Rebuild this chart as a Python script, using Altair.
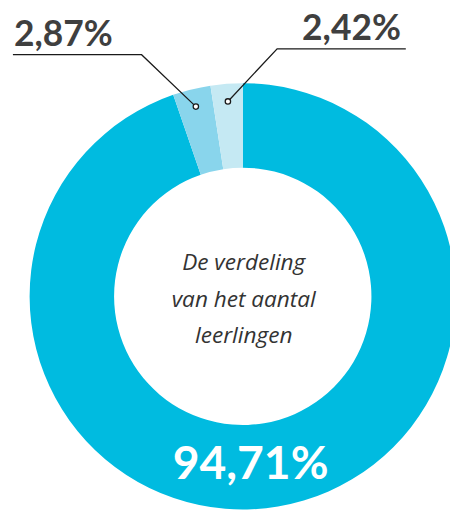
import math
import altair as alt
import pandas as pd

# data
categories = ["hoofdgroep", "groep B", "groep C"]
values = [94.71, 2.87, 2.42]
labels = ["94,71%", "2,87%", "2,42%"]
colors = ["#00BBE0", "#89D5EC", "#C5E9F3"]
center_lines = ["De verdeling", "van het aantal", "leerlingen"]

CX, CY = 239, 289
R_OUT, R_IN, R_DOT = 217, 131, 199

df = pd.DataFrame({"cat": categories, "value": values, "label": labels, "order": [0, 1, 2]})

# mid angles for leader dots (theta starts at top, clockwise)
total = sum(values)
cum = 0
mids = []
for v in values:
    mids.append((cum + v / 2) / total * 2 * math.pi)
    cum += v

dots = pd.DataFrame({
    "cat": categories[1:],
    "px": [CX + R_DOT * math.sin(a) for a in mids[1:]],
    "py": [CY - R_DOT * math.cos(a) for a in mids[1:]],
})

# leader lines: underline end, elbow, dot
lines = pd.DataFrame({
    "cat": ["groep B"] * 3 + ["groep C"] * 3,
    "i": [0, 1, 2, 0, 1, 2],
    "px": [5, 136, dots.px[0], 405, 274, dots.px[1]],
    "py": [43, 43, dots.py[0], 37, 37, dots.py[1]],
})

label_df = pd.DataFrame({
    "label": labels[1:],
    "px": [6, 400],
    "py": [34, 28],
})

base = alt.Chart(df)

arc = base.mark_arc(strokeWidth=0).encode(
    theta=alt.Theta("value:Q", stack=True),
    order=alt.Order("order:Q"),
    color=alt.Color("cat:N", scale=alt.Scale(domain=categories, range=colors), legend=None),
    radius=alt.value(R_OUT),
    radius2=alt.value(R_IN),
    x=alt.value(CX),
    y=alt.value(CY),
)

leader = alt.Chart(lines).mark_line(color="#1a1a1a", strokeWidth=1.3).encode(
    x=alt.X("px:Q", scale=None),
    y=alt.Y("py:Q", scale=None),
    detail="cat:N",
    order="i:Q",
)

dot = alt.Chart(dots).mark_point(filled=True, fill="white", stroke="#1a1a1a", strokeWidth=1.3, size=30, opacity=1).encode(
    x=alt.X("px:Q", scale=None),
    y=alt.Y("py:Q", scale=None),
)

lab_left = alt.Chart(label_df.iloc[[0]]).mark_text(
    align="left", baseline="alphabetic", font="Lato", fontWeight="bold", fontSize=36, color="#3F3F3F"
).encode(x=alt.X("px:Q", scale=None), y=alt.Y("py:Q", scale=None), text="label:N")

lab_right = alt.Chart(label_df.iloc[[1]]).mark_text(
    align="right", baseline="alphabetic", font="Lato", fontWeight="bold", fontSize=36, color="#3F3F3F"
).encode(x=alt.X("px:Q", scale=None), y=alt.Y("py:Q", scale=None), text="label:N")

center = alt.Chart(df.iloc[[0]]).mark_text(
    text=center_lines, align="center", baseline="alphabetic", font="Open Sans",
    fontStyle="italic", fontSize=23, lineHeight=37.5, color="#333333"
).encode(x=alt.value(CX + 1), y=alt.value(262))

big = alt.Chart(df.iloc[[0]]).mark_text(
    align="center", baseline="alphabetic", font="Lato", fontWeight="bold", fontSize=47, color="white"
).encode(x=alt.value(247), y=alt.value(475), text="label:N")

chart = alt.layer(arc, leader, dot, lab_left, lab_right, center, big).properties(
    width=450, height=505, autosize=alt.AutoSizeParams(type="none"), padding=0
).configure_view(stroke=None)

chart.save("out.html", embed_options={"renderer": "svg", "actions": False})
